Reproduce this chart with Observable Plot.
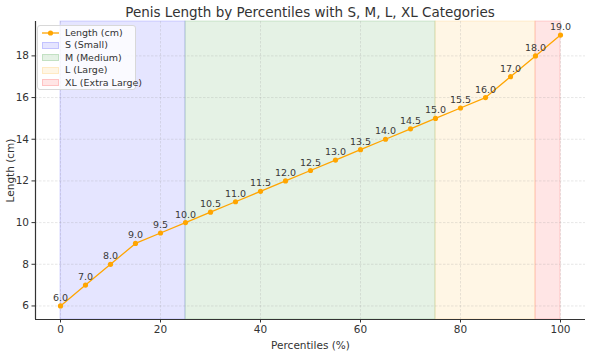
<!DOCTYPE html>
<html><head><meta charset="utf-8">
<script src="https://cdn.jsdelivr.net/npm/d3@7"></script>
<script src="https://cdn.jsdelivr.net/npm/@observablehq/plot@0.6"></script>
<style>
body{margin:0;background:#fff;font-family:"DejaVu Sans",sans-serif;}
#wrap{position:relative;width:590px;height:351px;overflow:hidden;}
#title{height:20px;width:560px;padding-left:30px;text-align:center;font-size:13.5px;line-height:24px;color:#333;white-space:nowrap;}
#legend{position:absolute;left:37px;top:25px;width:99px;height:65px;background:rgba(255,255,255,0.8);border:1px solid #d8d8d8;border-radius:3px;font-size:9.5px;color:#333;box-sizing:border-box;}
.row{position:absolute;left:0;height:12px;width:97px;}
.sw{position:absolute;left:4px;top:2.5px;width:17px;height:7px;}
.lbl{position:absolute;left:27px;top:0;line-height:12px;white-space:nowrap;}
svg{display:block;}
</style></head>
<body>
<div id="wrap">
<div id="title">Penis Length by Percentiles with S, M, L, XL Categories</div>
<div id="chart"></div>
<div id="legend"></div>
</div>
<script>
const percentiles = [0,5,10,15,20,25,30,35,40,45,50,55,60,65,70,75,80,85,90,95,100];
const lengths = [6,7,8,9,9.5,10,10.5,11,11.5,12,12.5,13,13.5,14,14.5,15,15.5,16,17,18,19];
const catNames = ["S (Small)","M (Medium)","L (Large)","XL (Extra Large)"];
const catStart = [0,25,75,95];
const catEnd = [25,75,95,100];
const catColors = ["blue","green","orange","red"];
const xTicks = [0,20,40,60,80,100];
const yTicks = [6,8,10,12,14,16,18];
const lineName = "Length (cm)";

const points = percentiles.map((p,i)=>({p, len: lengths[i]}));
const cats = catNames.map((n,i)=>({n, x1: catStart[i], x2: catEnd[i], c: catColors[i]}));

const chart = Plot.plot({
  width: 590, height: 331,
  marginLeft: 35, marginRight: 5, marginTop: 1, marginBottom: 32,
  style: {fontFamily: "DejaVu Sans", fontSize: "10.5px", color: "#333", background: "#fff"},
  x: {domain: [-5, 105]},
  y: {domain: [5.35, 19.65]},
  marks: [
    Plot.rect(cats, {x1: "x1", x2: "x2", fill: "c", fillOpacity: 0.1, stroke: "c", strokeOpacity: 0.15, strokeWidth: 1}),
    Plot.gridX(xTicks, {stroke: "#999", strokeOpacity: 0.4, strokeDasharray: "2.5,1.5", strokeWidth: 0.6}),
    Plot.gridY(yTicks, {stroke: "#999", strokeOpacity: 0.4, strokeDasharray: "2.5,1.5", strokeWidth: 0.6}),
    Plot.axisX(xTicks, {tickSize: 3.5, tickPadding: 3, label: "Percentiles (%)", labelAnchor: "center", labelOffset: 29, labelArrow: "none", fontSize: 10.5}),
    Plot.axisY(yTicks, {tickSize: 3.5, tickPadding: 3, label: "Length (cm)", labelAnchor: "center", labelOffset: 29, labelArrow: "none", fontSize: 10.5}),
    Plot.ruleX([-5], {stroke: "#333", strokeWidth: 1.2}),
    Plot.ruleY([5.35], {stroke: "#333", strokeWidth: 1.2}),
    Plot.line(points, {x: "p", y: "len", stroke: "orange", strokeWidth: 1.3}),
    Plot.dot(points, {x: "p", y: "len", fill: "orange", r: 2.6}),
    Plot.text(points, {x: "p", y: "len", text: d => d.len.toFixed(1), dy: -8, fontSize: 9.5, fill: "#3a3a3a"})
  ]
});
document.getElementById("chart").appendChild(chart);

// legend
const lg = document.getElementById("legend");
const rowsTop = [1.3, 13.3, 25.7, 38.3, 50.7];
const mk = (top, swHtml, text) => {
  const r = document.createElement("div");
  r.className = "row"; r.style.top = top + "px";
  r.innerHTML = swHtml + `<div class="lbl">${text}</div>`;
  lg.appendChild(r);
};
mk(rowsTop[0], `<svg class="sw" style="top:0;height:12px" width="17" height="12"><line x1="0" x2="17" y1="6" y2="6" stroke="orange" stroke-width="1.3"/><circle cx="8.5" cy="6" r="2.6" fill="orange"/></svg>`, lineName);
const fills = {blue:"rgba(0,0,255,0.1)", green:"rgba(0,128,0,0.1)", orange:"rgba(255,165,0,0.1)", red:"rgba(255,0,0,0.1)"};
const edges = {blue:"rgba(0,0,255,0.15)", green:"rgba(0,128,0,0.15)", orange:"rgba(255,165,0,0.15)", red:"rgba(255,0,0,0.15)"};
cats.forEach((c,i) => {
  mk(rowsTop[i+1], `<div class="sw" style="background:${fills[c.c]};border:1px solid ${edges[c.c]};box-sizing:border-box"></div>`, c.n);
});
</script>
</body></html>
